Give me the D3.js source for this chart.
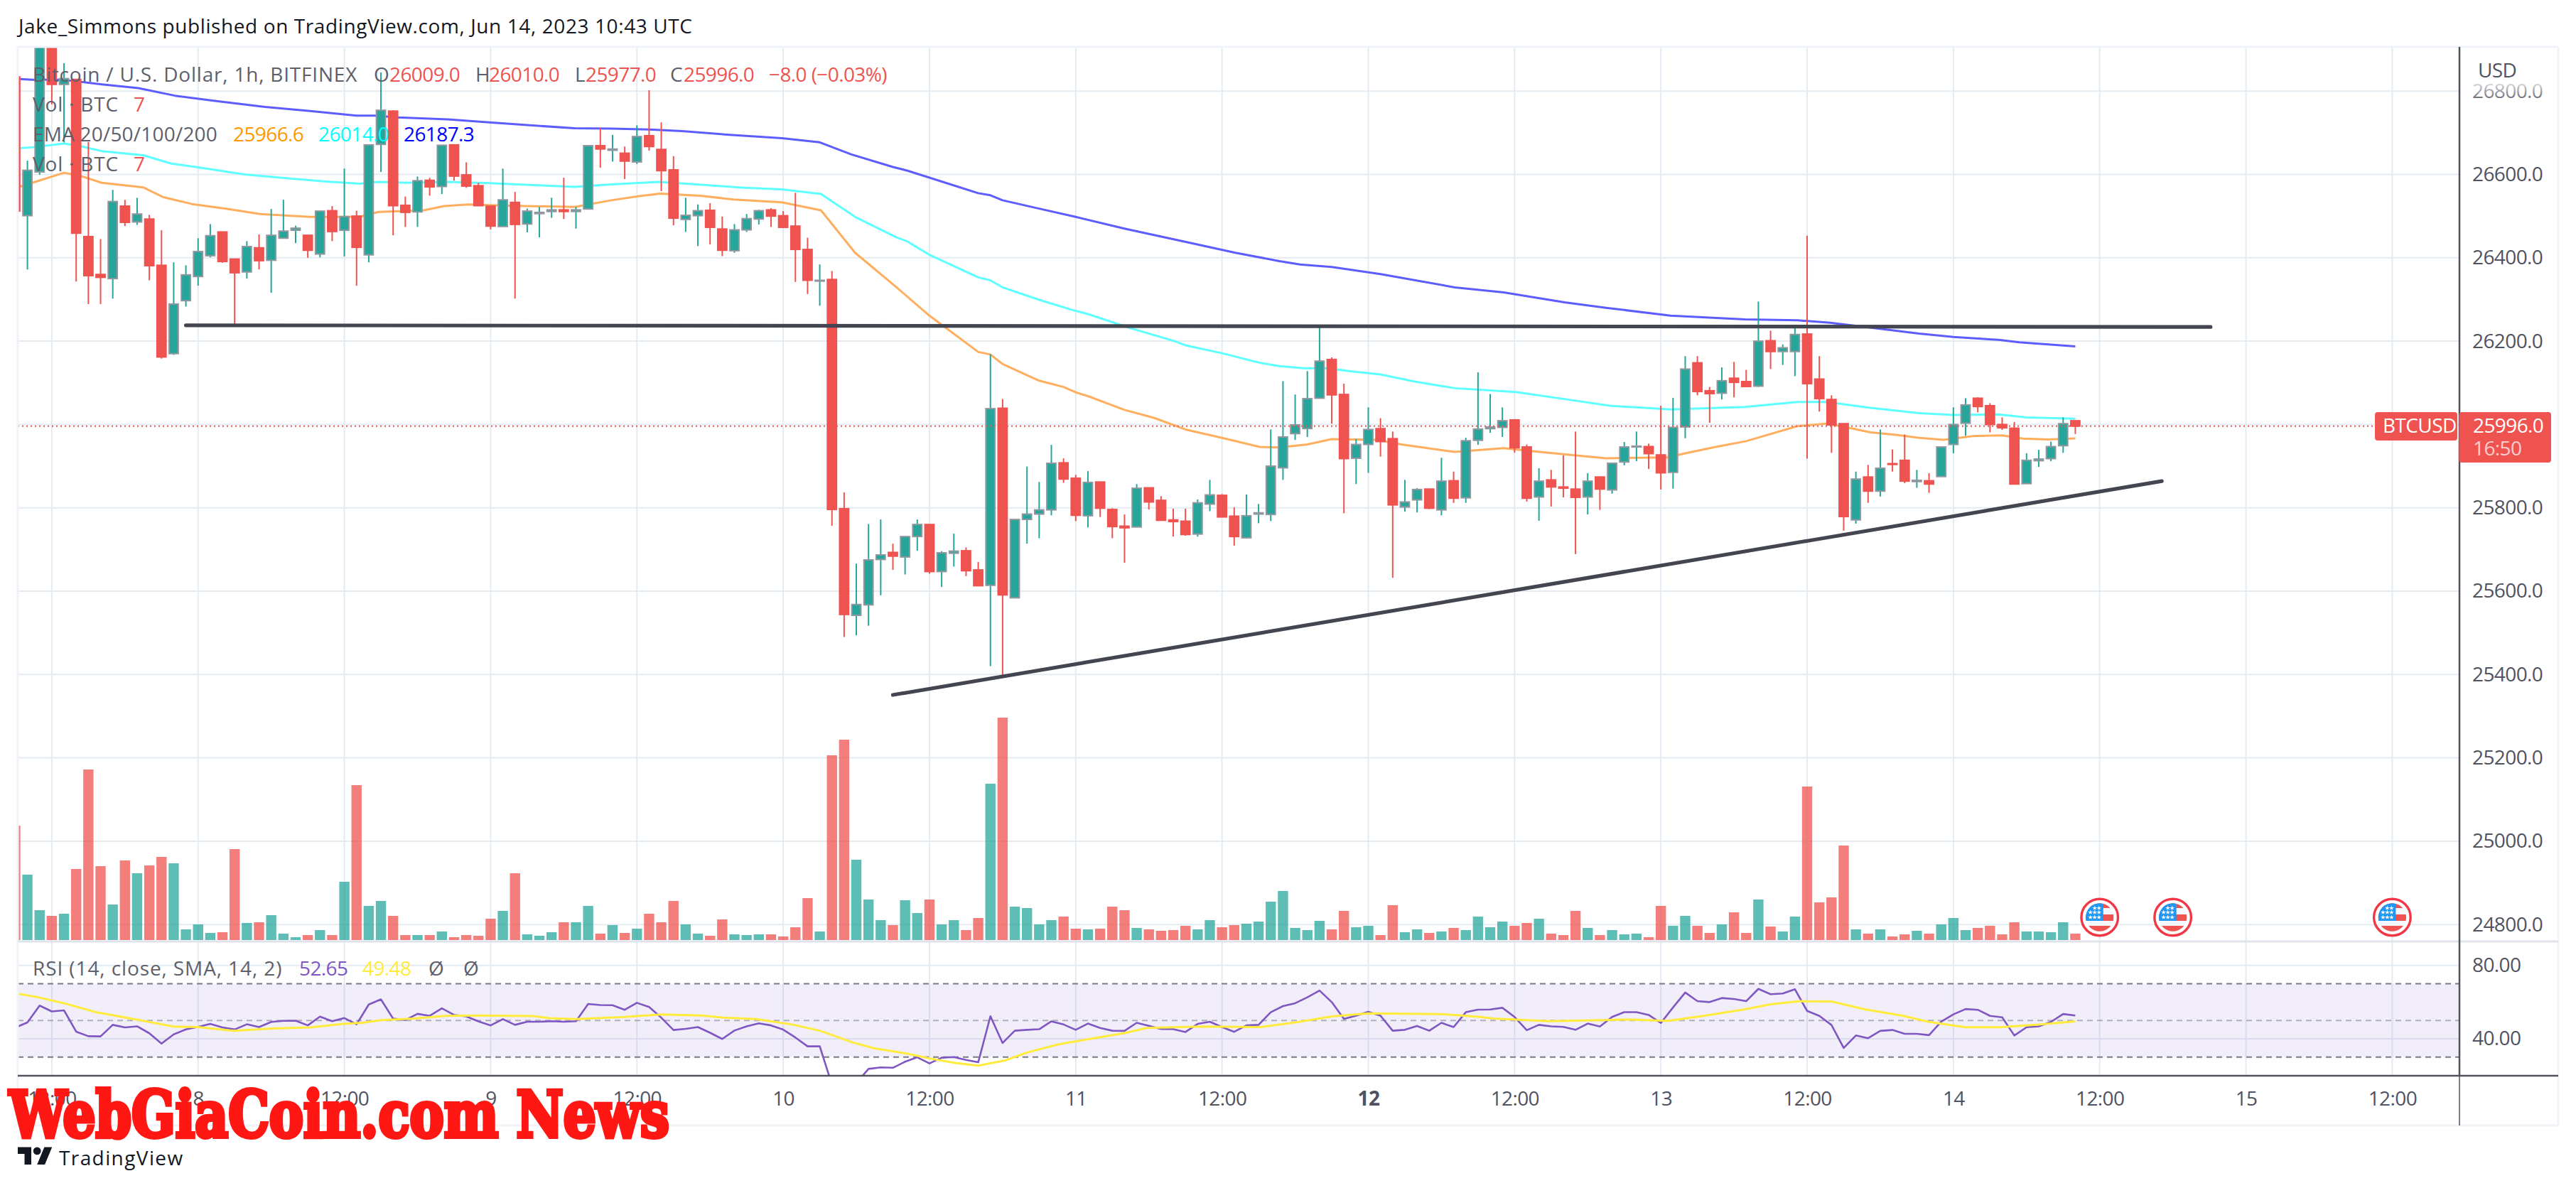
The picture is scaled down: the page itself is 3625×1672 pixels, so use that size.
<!DOCTYPE html>
<html>
<head>
<meta charset="utf-8">
<style>
  html, body { margin: 0; padding: 0; background: #fff; }
  text { font-family: "Open Sans", "Noto Sans", sans-serif; font-size: 28px; letter-spacing: -0.6px; }
</style>
</head>
<body>
<svg id="chart" width="3625" height="1672"></svg>
<script src="https://cdn.jsdelivr.net/npm/d3@7"></script>
<script>
// first candle is 15 hours before Jun 8 00:00, hours count from there
const firstHour = -15;

// open, high, low, close
const ohlc = [
  [26834,26834,26512,26512],[26501,26633,26372,26610],[26606,26950,26599,26950],[26960,26960,26768,26816],[26816,26867,26677,26830],
  [26828,26828,26343,26459],[26451,26678,26289,26357],[26360,26445,26289,26353],[26350,26563,26302,26535],[26524,26539,26476,26485],
  [26486,26544,26479,26505],[26493,26503,26346,26381],[26382,26466,26158,26162],[26170,26389,26167,26289],[26297,26382,26283,26359],
  [26355,26447,26333,26415],[26405,26481,26401,26453],[26462,26462,26388,26391],[26397,26397,26238,26364],[26366,26440,26350,26427],
  [26424,26456,26372,26393],[26394,26517,26316,26454],[26447,26539,26447,26464],[26466,26477,26435,26471],[26454,26454,26400,26418],
  [26409,26512,26401,26512],[26513,26524,26440,26463],[26466,26614,26403,26499],[26500,26513,26333,26425],[26407,26671,26389,26671],
  [26672,26845,26606,26754],[26752,26754,26454,26525],[26526,26547,26474,26509],[26510,26595,26474,26585],[26586,26592,26549,26570],
  [26571,26670,26553,26670],[26671,26671,26585,26596],[26599,26629,26568,26572],[26573,26580,26525,26525],[26524,26524,26468,26476],
  [26475,26614,26475,26539],[26533,26558,26302,26480],[26481,26518,26461,26512],[26506,26522,26449,26509],[26511,26544,26496,26515],
  [26515,26592,26493,26511],[26511,26522,26470,26515],[26517,26669,26517,26669],[26669,26712,26616,26661],[26658,26695,26631,26661],
  [26651,26667,26589,26632],[26630,26718,26625,26691],[26693,26802,26657,26667],[26660,26725,26560,26609],[26611,26644,26478,26495],
  [26492,26544,26462,26502],[26501,26528,26428,26513],[26514,26531,26432,26473],[26469,26499,26404,26418],[26417,26481,26412,26467],
  [26467,26505,26462,26494],[26493,26515,26480,26513],[26515,26519,26474,26500],[26501,26512,26473,26473],[26476,26556,26342,26420],
  [26420,26448,26313,26346],[26344,26384,26285,26346],[26348,26368,25757,25796],[25798,25837,25490,25544],[25542,25666,25494,25568],
  [25567,25761,25517,25675],[25676,25772,25590,25687],[25693,25714,25651,25684],[25682,25731,25640,25731],[25731,25772,25697,25760],
  [25760,25760,25642,25647],[25647,25696,25610,25692],[25691,25738,25659,25696],[25697,25705,25636,25649],[25651,25670,25613,25613],
  [25614,26168,25420,26038],[26039,26061,25394,25591],[25584,25772,25584,25772],[25772,25899,25714,25785],[25785,25862,25727,25795],
  [25795,25951,25782,25907],[25908,25919,25860,25869],[25871,25879,25768,25782],[25781,25888,25753,25861],[25862,25862,25778,25799],
  [25796,25799,25727,25755],[25756,25784,25668,25752],[25754,25857,25754,25847],[25848,25848,25796,25814],[25818,25828,25770,25770],
  [25771,25798,25731,25767],[25768,25798,25733,25736],[25737,25820,25731,25812],[25809,25867,25792,25831],[25830,25833,25778,25778],
  [25780,25801,25709,25731],[25728,25832,25726,25781],[25785,25809,25763,25788],[25784,25988,25768,25900],[25896,26104,25867,25970],
  [25978,26072,25963,25999],[25990,26128,25970,26062],[26063,26233,26063,26152],[26156,26161,26002,26071],[26072,26098,25787,25918],
  [25919,25965,25857,25952],[25952,26041,25884,25988],[25990,26015,25923,25959],[25966,25983,25632,25807],[25802,25867,25791,25814],
  [25819,25847,25789,25844],[25845,25845,25797,25799],[25795,25920,25782,25864],[25865,25887,25812,25823],[25824,25968,25812,25961],
  [25962,26125,25951,25989],[25990,26073,25980,25994],[25993,26041,25970,26009],[26011,26011,25932,25944],[25946,25952,25815,25823],
  [25826,25895,25769,25864],[25867,25891,25803,25850],[25850,25926,25825,25847],[25845,25983,25689,25825],[25826,25883,25784,25864],
  [25874,25874,25795,25845],[25843,25907,25834,25907],[25910,25958,25902,25946],[25946,25983,25912,25948],[25947,25954,25893,25930],
  [25927,26045,25844,25884],[25885,26064,25846,25993],[25994,26164,25967,26133],[26148,26164,26070,26079],[26081,26090,26004,26074],
  [26075,26137,26060,26105],[26111,26150,26065,26101],[26103,26131,26091,26091],[26092,26295,26090,26200],[26201,26225,26133,26175],
  [26175,26192,26143,26184],[26175,26231,26116,26216],[26217,26453,25918,26098],[26109,26164,26031,26062],[26060,26070,25932,25999],
  [26002,26002,25745,25779],[25771,25887,25762,25869],[25874,25903,25812,25840],[25840,25988,25827,25895],[25906,25940,25887,25904],
  [25914,25976,25859,25864],[25863,25891,25848,25866],[25865,25883,25836,25857],[25875,25946,25875,25946],[25952,26041,25931,26000],
  [26003,26063,25973,26047],[26063,26065,26029,26043],[26045,26051,25981,26000],[26000,26017,25987,25992],[25991,26006,25857,25857],
  [25858,25931,25858,25914],[25913,25939,25898,25917],[25918,25959,25912,25947],[25949,26017,25932,26002],[26009,26010,25977,25996]
];

// volume, one per candle
const volumes = [
  161,92,42,34,37,100,240,104,50,112,94,105,117,108,15,22,10,11,128,24,
  25,35,9,4,7,14,7,82,218,48,55,34,7,7,7,12,4,7,6,30,
  41,94,8,6,11,25,25,48,9,21,10,16,37,25,55,22,9,6,29,8,
  7,8,8,5,18,59,12,260,282,113,57,28,21,56,38,57,22,28,14,31,
  220,313,47,45,22,28,33,16,15,16,47,42,17,15,13,14,20,15,28,18,
  21,23,26,54,69,17,14,27,15,41,18,20,7,49,11,15,10,12,17,14,
  33,18,26,20,24,30,9,7,41,17,7,14,8,9,4,48,20,34,20,10,
  22,39,10,57,19,12,33,216,53,60,133,15,9,15,5,8,13,9,22,31,
  14,17,20,8,25,12,12,11,25,9
];

// RSI(14), one per candle
const rsiValues = [
  46.1,48.9,58.1,54.9,55.5,43.9,41.4,41.3,47.6,46.2,46.8,43.0,37.4,42.4,45.1,46.5,48.1,46.2,45.1,47.9,
  46.4,49.2,49.8,49.9,47.3,52.1,49.6,51.3,47.9,58.7,61.5,51.0,50.2,53.6,52.5,56.6,53.0,52.2,49.5,47.3,
  50.7,47.6,49.3,49.3,49.6,49.3,49.6,59.0,58.4,58.3,55.8,59.6,57.3,51.5,44.8,45.4,46.4,43.3,39.9,44.5,
  46.8,48.4,47.3,45.0,40.7,35.9,35.9,15.0,12.9,15.9,23.6,24.4,24.2,27.5,29.9,26.6,29.7,30.0,28.5,27.2,
  52.3,37.7,44.4,44.9,45.2,49.5,47.8,44.9,48.3,45.9,44.4,44.3,48.7,47.1,45.3,45.2,43.7,48.1,49.3,46.4,
  43.8,47.3,47.6,54.5,57.8,59.4,62.6,66.3,60.0,50.8,52.6,54.7,52.6,44.4,44.9,47.0,44.4,48.7,46.4,54.5,
  55.9,56.0,56.9,51.9,44.7,47.6,46.8,46.5,44.9,48.3,46.7,51.9,54.5,54.5,53.0,48.6,57.1,65.2,60.5,60.0,
  62.2,61.7,60.5,67.2,64.3,64.7,67.0,55.2,52.5,47.5,35.0,41.8,40.3,44.3,44.8,42.7,42.7,42.0,49.3,53.3,
  56.2,55.8,52.5,51.7,41.8,46.3,46.8,49.2,53.5,52.65
];

// [hour, value]
const rsiMa = [
  [-14.8,64.6],[-13.1,62.6],[-10.9,59.2],[-8.4,54.5],[-5.5,51.0],[-2,46.7],[0,46.4],[2.9,44.4],[6.1,45.6],[9.2,46.2],
  [11.9,48.1],[13.6,48.8],[15,50.2],[17.7,51.0],[20.3,52.5],[23,52.7],[27.5,52.4],[28.8,51.2],[31,50.7],[35,51.9],
  [38,53.3],[41.3,52.7],[43.1,51.5],[45.8,50.7],[48.9,47.6],[51.1,44.2],[53.7,38.0],[55.5,34.8],[58.2,31.9],[60,29.3],
  [62.2,26.7],[64,25.4],[66.2,28.2],[68,32.5],[70.6,37.0],[73.3,40.1],[76,43.1],[77.8,45.9],[82.2,46.7],[87.2,46.4],
  [90.3,49.2],[93,52.2],[96,53.8],[101.9,53.5],[105,52.0],[106.3,51.0],[110.8,49.6],[117.5,50.5],[120.6,49.8],[123.6,52.6],
  [126.8,56],[129,58.8],[131.4,60.5],[134,60.3],[136.8,56],[139.9,52.5],[141.9,49.3],[145,46.3],[147.8,46.3],[151,47.7],[154,49.48]
];

const ema200 = [
  [-14.6,26829],[-13.6,26827],[-11,26827],[-7.9,26816],[-4.9,26807],[-1.9,26789],[1.5,26776],[5.5,26762],[9.2,26752],[13,26741],
  [14.5,26741],[16.4,26737],[20.5,26732],[23.9,26725],[27.2,26718],[30.9,26711],[33.9,26710],[37,26708],[39.7,26704],[43.6,26695],
  [47.9,26687],[51,26677],[53.6,26648],[57,26618],[58.2,26609],[61,26583],[64,26555],[65,26550],[66,26538],[69,26518],
  [72,26498],[76,26470],[80.7,26440],[85.1,26412],[88.7,26392],[90.4,26384],[93,26378],[97,26361],[103.1,26329],[107.1,26317],
  [112.1,26293],[115.5,26280],[120.8,26261],[126.9,26252],[131.2,26250],[133.9,26244],[135.6,26238],[141.2,26218],[144,26210],[147.7,26203],
  [149.4,26197],[154,26187.3]
];

const ema100 = [
  [-14.6,26663],[-13.6,26665],[-11,26674],[-9.5,26667],[-7.9,26656],[-4.5,26646],[-2.2,26626],[0.5,26615],[3.8,26600],[7.2,26591],
  [10.5,26583],[13.3,26578],[14.8,26582],[17.2,26580],[20.5,26582],[23.9,26579],[27.2,26575],[30.9,26570],[33.9,26576],[37.8,26582],
  [40.9,26576],[44.8,26568],[47.9,26564],[51.1,26553],[53.9,26498],[57.3,26449],[58.2,26439],[60,26407],[64,26353],[65,26346],
  [66,26329],[69,26299],[71.7,26275],[73,26265],[76.4,26232],[80.1,26200],[81,26190],[84,26171],[87.1,26148],[88.7,26140],
  [90.7,26135],[92.7,26135],[94.4,26128],[97,26120],[99.8,26103],[103.1,26087],[108.1,26078],[112.1,26061],[115.8,26045],[120.8,26036],
  [126.9,26042],[131.2,26054],[133.6,26054],[137.2,26040],[141.2,26027],[144,26023],[147.7,26024],[150,26017],[154,26014]
];

const ema50 = [
  [-14.6,26571],[-13.6,26580],[-11,26604],[-9.5,26595],[-7.9,26580],[-4.5,26569],[-2.9,26546],[-0.5,26529],[2.2,26518],[5.1,26505],
  [9.2,26498],[13.2,26498],[14.8,26510],[18.5,26514],[20.2,26524],[22.2,26528],[25.5,26525],[30.9,26522],[33.9,26538],[36.2,26548],
  [37.9,26554],[41.2,26549],[43.9,26540],[47.9,26533],[51.1,26514],[53.9,26412],[57.3,26329],[60,26261],[64,26174],[65,26168],
  [66,26145],[69,26105],[71,26090],[72,26077],[73,26068],[76,26035],[78.4,26016],[81,25988],[84,25968],[87.1,25946],
  [88.7,25945],[91,25952],[93,25965],[96.7,25963],[98.7,25952],[103.1,25934],[107.1,25943],[110.5,25933],[115.5,25919],[120.5,25921],
  [122.2,25932],[124.5,25946],[127,25960],[131.2,25996],[133.6,26002],[135.6,25991],[137.2,25981],[139.3,25975],[141.2,25968],[143.2,25963],
  [145.6,25972],[148,25974],[149.7,25966],[151.8,25964],[154,25966.6]
];

// hand drawn trend lines, [hour, price]
const resistanceLine = [[-1,26238],[165.1,26234]];
const supportLine = [[57,25351],[161.1,25864]];

const lastPrice = 25996;
const eventHours = [156, 162, 180];

const priceTicks = [26800,26600,26400,26200,26000,25800,25600,25400,25200,25000,24800];
const rsiTicks = [80, 40];
const tickHours = [-12,0,12,24,36,48,60,72,84,96,108,120,132,144,156,168,180];
const tickLabels = ["12:00","8","12:00","9","12:00","10","12:00","11","12:00","12","12:00","13","12:00","14","12:00","15","12:00"];

const up = "#26a69a", down = "#ef5350";
const candles = ohlc.map((r, i) => ({ hour: firstHour + i, open: r[0], high: r[1], low: r[2], close: r[3], vol: volumes[i], rsi: rsiValues[i] }));
const isUp = d => d.close >= d.open;

const paneLeft = 25, paneRight = 3461, outerRight = 3600, paneTop = 66, mainBottom = 1325, rsiBottom = 1514, axisBottom = 1584;

const x = d3.scaleLinear().domain([-12, 180]).range([72.9, 3366.4]);
const y = d3.scaleLinear().domain([25600, 26400]).range([832, 362.8]);
const yVol = d3.scaleLinear().domain([0, 313]).range([1323, 1010]);
const yRsi = d3.scaleLinear().domain([40, 80]).range([1462, 1358.7]);

const svg = d3.select("#chart");
const defs = svg.append("defs");
defs.append("clipPath").attr("id", "mainClip").append("rect")
  .attr("x", paneLeft).attr("y", paneTop).attr("width", paneRight - paneLeft).attr("height", mainBottom - paneTop);
defs.append("clipPath").attr("id", "rsiClip").append("rect")
  .attr("x", paneLeft).attr("y", mainBottom).attr("width", paneRight - paneLeft).attr("height", rsiBottom - mainBottom);
const fade = defs.append("linearGradient").attr("id", "axisFade").attr("x1", 0).attr("x2", 0).attr("y1", 0).attr("y2", 1);
fade.append("stop").attr("offset", "55%").attr("stop-color", "#fff").attr("stop-opacity", 1);
fade.append("stop").attr("offset", "100%").attr("stop-color", "#fff").attr("stop-opacity", 0);

// Grid
const grid = svg.append("g").attr("stroke", "#e3ebf3").attr("stroke-width", 2);
grid.selectAll(".v").data(tickHours).enter().append("line")
  .attr("x1", d => x(d)).attr("x2", d => x(d)).attr("y1", paneTop).attr("y2", rsiBottom);
grid.selectAll(".h").data(priceTicks).enter().append("line")
  .attr("x1", paneLeft).attr("x2", paneRight).attr("y1", d => y(d)).attr("y2", d => y(d));
grid.selectAll(".r").data(rsiTicks).enter().append("line")
  .attr("x1", paneLeft).attr("x2", paneRight).attr("y1", d => yRsi(d)).attr("y2", d => yRsi(d));

// Volume
const main = svg.append("g").attr("clip-path", "url(#mainClip)");
main.selectAll(".vol").data(candles).enter().append("rect")
  .attr("x", d => x(d.hour) - 7.2).attr("width", 14.4)
  .attr("y", d => yVol(d.vol)).attr("height", d => yVol(0) - yVol(d.vol))
  .attr("fill", d => isUp(d) ? up : down)
  .attr("fill-opacity", d => isUp(d) ? 0.74 : 0.75);

// EMA lines
const line = d3.line().x(d => x(d[0])).y(d => y(d[1]));
[[ema50, "#ffae5e"], [ema100, "#5effff"], [ema200, "#5c5cff"]].forEach(([data, color]) => {
  main.append("path").attr("d", line(data)).attr("fill", "none")
    .attr("stroke", color).attr("stroke-width", 3).attr("stroke-linejoin", "round");
});

// Candles
main.selectAll(".wick").data(candles).enter().append("line")
  .attr("x1", d => x(d.hour)).attr("x2", d => x(d.hour))
  .attr("y1", d => y(d.high)).attr("y2", d => y(d.low))
  .attr("stroke", d => isUp(d) ? up : down).attr("stroke-width", 2);
main.selectAll(".body").data(candles).enter().append("rect")
  .attr("x", d => x(d.hour) - 6.4).attr("width", 12.8)
  .attr("y", d => y(Math.max(d.open, d.close)))
  .attr("height", d => Math.abs(y(d.open) - y(d.close)))
  .attr("fill", d => isUp(d) ? up : down)
  .attr("stroke", d => isUp(d) ? "#91979f" : down).attr("stroke-width", 2);

// Last price line and trend lines
svg.append("line").attr("x1", paneLeft).attr("x2", 3342).attr("y1", y(lastPrice)).attr("y2", y(lastPrice))
  .attr("stroke", down).attr("stroke-width", 2.2).attr("stroke-dasharray", "2 4");
[resistanceLine, supportLine].forEach(data => {
  svg.append("path").attr("d", line(data)).attr("fill", "none")
    .attr("stroke", "#434651").attr("stroke-width", 5.2).attr("stroke-linecap", "round");
});

// RSI pane
const rsiPane = svg.append("g").attr("clip-path", "url(#rsiClip)");
rsiPane.append("rect").attr("x", paneLeft).attr("width", paneRight - paneLeft)
  .attr("y", yRsi(70)).attr("height", yRsi(30) - yRsi(70)).attr("fill", "#7e57c2").attr("fill-opacity", 0.1);
[[70, 1], [50, 0.55], [30, 1]].forEach(([v, op]) => {
  rsiPane.append("line").attr("x1", paneLeft).attr("x2", paneRight).attr("y1", yRsi(v)).attr("y2", yRsi(v))
    .attr("stroke", "#787b86").attr("stroke-opacity", op).attr("stroke-width", 2).attr("stroke-dasharray", "8 6");
});
rsiPane.append("path")
  .attr("d", d3.line().x(d => x(d.hour)).y(d => yRsi(d.rsi))(candles))
  .attr("fill", "none").attr("stroke", "#7e57c2").attr("stroke-width", 2.6).attr("stroke-linejoin", "round");
rsiPane.append("path")
  .attr("d", d3.line().x(d => x(d[0])).y(d => yRsi(d[1]))(rsiMa))
  .attr("fill", "none").attr("stroke", "#ffeb3b").attr("stroke-width", 3);

// Frame
const frame = svg.append("g");
const seg = (x1, y1, x2, y2, color, w) => frame.append("line")
  .attr("x1", x1).attr("y1", y1).attr("x2", x2).attr("y2", y2).attr("stroke", color).attr("stroke-width", w);
seg(paneLeft, paneTop, outerRight, paneTop, "#f0f3fa", 3);
seg(paneLeft, paneTop, paneLeft, axisBottom, "#f0f3fa", 3);
seg(outerRight, paneTop, outerRight, axisBottom, "#f0f3fa", 3);
seg(paneLeft, axisBottom, outerRight, axisBottom, "#f0f3fa", 3);
seg(paneLeft, mainBottom, outerRight, mainBottom, "#e0e3eb", 3);
seg(paneLeft, rsiBottom, outerRight, rsiBottom, "#50535e", 2.5);
seg(paneRight, paneTop, paneRight, rsiBottom, "#50535e", 2.5);
seg(paneRight, rsiBottom, paneRight, axisBottom, "#50535e", 1.5);

// Axes
const axisText = "#4f5260";
const styleAxis = g => {
  g.select(".domain").remove();
  g.selectAll("text").attr("fill", axisText);
};
svg.append("g").attr("transform", `translate(${paneRight},0)`)
  .call(d3.axisRight(y).tickValues(priceTicks).tickFormat(d3.format(".1f")).tickSize(0).tickPadding(18))
  .call(styleAxis);
svg.append("g").attr("transform", `translate(${paneRight},0)`)
  .call(d3.axisRight(yRsi).tickValues(rsiTicks).tickFormat(d3.format(".2f")).tickSize(0).tickPadding(18))
  .call(styleAxis);
svg.append("g").attr("transform", `translate(0,${rsiBottom + 12})`)
  .call(d3.axisBottom(x).tickValues(tickHours).tickFormat((d, i) => tickLabels[i]).tickSize(0).tickPadding(10))
  .call(styleAxis)
  .selectAll("text").attr("font-weight", (d, i) => tickLabels[i] === "12" ? 700 : 400);

svg.selectAll("g.tick text").style("font-size", "28px").style("font-family", null);
svg.selectAll("g").filter(function () { return this.hasAttribute("font-family"); })
  .attr("font-family", null).attr("font-size", null);

// USD over a fade that hides the top of the first tick
svg.append("rect").attr("x", paneRight + 3).attr("y", paneTop + 2).attr("width", outerRight - paneRight - 5)
  .attr("height", 76).attr("fill", "url(#axisFade)");

const label = (str, px, py, fill, spacing = -0.6) => svg.append("text")
  .attr("x", px).attr("y", py).attr("fill", fill).style("letter-spacing", spacing + "px").text(str);
label("USD", 3487, 109, axisText);

// Title and legends
label("Jake_Simmons published on TradingView.com, Jun 14, 2023 10:43 UTC", 26, 47, "#131722", 0.6);
const legendGrey = "#5d606b";
label("Bitcoin / U.S. Dollar, 1h, BITFINEX", 46, 115, legendGrey, 0.8);
[["O", 526, legendGrey], ["26009.0", 548, down], ["H", 669, legendGrey], ["26010.0", 688, down],
 ["L", 809, legendGrey], ["25977.0", 824, down], ["C", 943, legendGrey], ["25996.0", 962, down],
 ["\u22128.0 (\u22120.03%)", 1082, down]].forEach(([s, px, c]) => label(s, px, 115, c));
label("Vol \u00b7 BTC", 46, 157, legendGrey, 0.8);
label("7", 188, 157, down);
label("EMA 20/50/100/200", 46, 199, legendGrey, 0.2);
label("25966.6", 328, 199, "#ff9800");
label("26014.0", 448, 199, "#00ffff");
label("26187.3", 568, 199, "#0000ff");
label("Vol \u00b7 BTC", 46, 241, legendGrey, 0.8);
label("7", 188, 241, down);

label("RSI (14, close, SMA, 14, 2)", 46, 1373, legendGrey, 0.9);
label("52.65", 421, 1373, "#7e57c2");
label("49.48", 510, 1373, "#ffeb3b");
label("\u00d8", 603, 1373, legendGrey);
label("\u00d8", 652, 1373, legendGrey);

// Last price tags
svg.append("rect").attr("x", 3342).attr("y", 580).attr("width", 116).attr("height", 40).attr("rx", 4).attr("fill", down);
svg.append("rect").attr("x", 3460.5).attr("y", 580).attr("width", 129.5).attr("height", 71).attr("rx", 4).attr("fill", down);
label("BTCUSD", 3353, 609, "#fff");
label(d3.format(".1f")(lastPrice), 3480, 609, "#fff");
label("16:50", 3480, 641, "#fff").attr("fill-opacity", 0.72);

// Economic event flags
const flagClip = defs.append("clipPath").attr("id", "flagClip");
flagClip.append("circle").attr("r", 19.7);
const flag = svg.selectAll(".flag").data(eventHours).enter().append("g")
  .attr("transform", d => `translate(${x(d)},1291)`);
flag.append("circle").attr("r", 25.8).attr("fill", "#fff").attr("stroke", "#f23645").attr("stroke-width", 3.4);
const flagBody = flag.append("g").attr("clip-path", "url(#flagClip)");
flagBody.append("rect").attr("x", -20).attr("y", -20).attr("width", 40).attr("height", 40).attr("fill", "#f5f7ff");
[[-20, 7], [-4, 9], [12, 8]].forEach(([sy, sh]) => {
  flagBody.append("rect").attr("x", -20).attr("y", sy).attr("width", 40).attr("height", sh).attr("fill", down);
});
flagBody.append("rect").attr("x", -20).attr("y", -20).attr("width", 25).attr("height", 25).attr("fill", "#2196f3");
const star = d3.symbol().type(d3.symbolStar).size(14)();
[[-7, -13], [-1, -13], [-13, -7], [-7, -7], [-1, -7], [-13, 0], [-7, 0], [-1, 0]].forEach(([sx, sy]) => {
  flagBody.append("path").attr("d", star).attr("transform", `translate(${sx},${sy})`).attr("fill", "#fff");
});

// Watermark, squeezed to its box
const stamp = svg.append("text").attr("x", 0).attr("y", 0).text("WebGiaCoin.com News")
  .style("font-family", "'DejaVu Serif', serif").style("font-size", "90px").style("font-weight", 700)
  .style("letter-spacing", "0").attr("fill", "#ff1714").attr("stroke", "#ff1714").attr("stroke-width", 6);
const stampWidth = stamp.node().getComputedTextLength();
stamp.attr("transform", `translate(13,1600) scale(${929 / stampWidth},1)`);

// TradingView logo
svg.append("path").attr("transform", "translate(25,1609) scale(1.36)")
  .attr("d", "M14 22H7V11H0V4h14v18zM28 22h-8l7.5-18h8L28 22z").attr("fill", "#131722");
svg.append("circle").attr("cx", 25 + 20 * 1.36).attr("cy", 1609 + 8 * 1.36).attr("r", 5.4).attr("fill", "#131722");
label("TradingView", 83, 1640, "#131722", 1.4);
</script>
</body>
</html>
